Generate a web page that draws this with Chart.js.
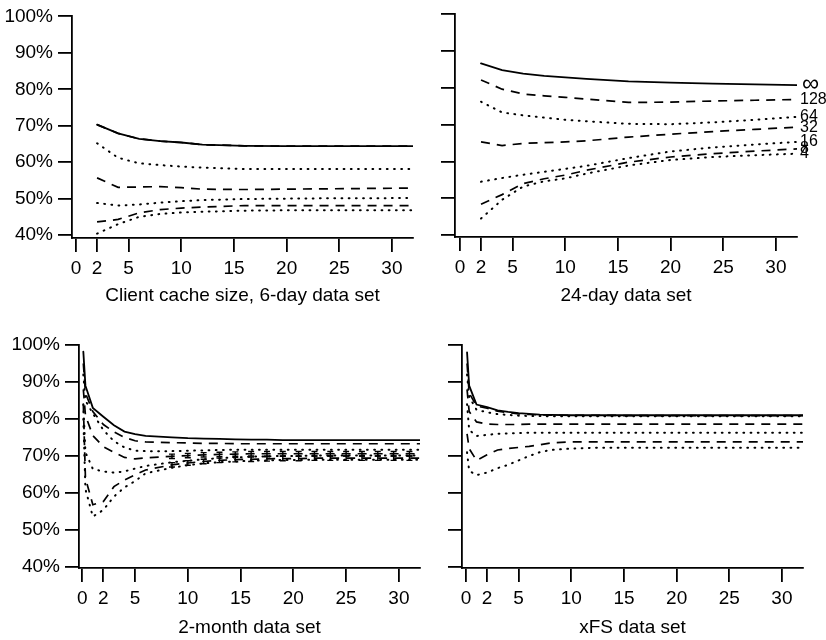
<!DOCTYPE html>
<html>
<head>
<meta charset="utf-8">
<script src="https://cdn.jsdelivr.net/npm/chart.js@4.4.1/dist/chart.umd.min.js"></script>
<style>
  body { margin: 0; background: #fff; width: 826px; height: 640px; position: relative; overflow: hidden; }
  canvas { position: absolute; }
</style>
</head>
<body>
<canvas id="day6" width="416" height="310" style="left:0;top:0"></canvas>
<canvas id="day24" width="385" height="310" style="left:441px;top:0"></canvas>
<canvas id="month2" width="422" height="320" style="left:0;top:320px"></canvas>
<canvas id="xfs" width="378" height="320" style="left:448px;top:320px"></canvas>
<script>
// cache sizes, one line each (bottom to top)
const sizeLabels = ['4', '8', '16', '32', '64', '128', '\u221e'];
const xTicks = [0, 2, 5, 10, 15, 20, 25, 30];
const yTicks = [40, 50, 60, 70, 80, 90, 100];

// 6-day and 24-day data sets
const xTop = [2, 4, 6, 8, 10, 12, 16, 20, 24, 28, 32];
const day6_4   = [40.4, 43.0, 45.0, 45.8, 46.2, 46.4, 46.7, 46.8, 46.8, 46.8, 46.8];
const day6_8   = [43.6, 44.3, 46.1, 47.0, 47.4, 47.7, 48.1, 48.1, 48.1, 48.1, 48.1];
const day6_16  = [48.8, 48.1, 48.4, 48.9, 49.3, 49.6, 49.9, 50.0, 50.1, 50.1, 50.2];
const day6_32  = [55.7, 53.1, 53.2, 53.3, 53.0, 52.6, 52.5, 52.6, 52.7, 52.8, 52.9];
const day6_64  = [65.2, 61.2, 59.7, 59.2, 58.8, 58.5, 58.1, 58.1, 58.1, 58.1, 58.1];
const day6_128 = [70.3, 67.9, 66.4, 65.8, 65.4, 64.8, 64.5, 64.4, 64.4, 64.4, 64.4];
const day6_inf = [70.3, 67.9, 66.4, 65.8, 65.4, 64.8, 64.5, 64.4, 64.4, 64.4, 64.4];

const day24_4   = [44.5, 49.6, 53.2, 54.6, 55.4, 56.7, 58.9, 60.4, 61.2, 61.7, 62.1];
const day24_8   = [48.4, 51.0, 54.0, 55.3, 56.3, 57.6, 59.8, 61.2, 62.1, 62.8, 63.4];
const day24_16  = [54.5, 55.5, 56.4, 57.2, 58.0, 58.8, 60.9, 62.7, 63.8, 64.6, 65.3];
const day24_32  = [65.3, 64.3, 64.9, 65.1, 65.3, 65.6, 66.6, 67.4, 68.1, 68.7, 69.3];
const day24_64  = [76.2, 73.3, 72.5, 71.9, 71.3, 70.9, 70.2, 70.1, 70.6, 71.3, 72.1];
const day24_128 = [82.1, 79.6, 78.3, 77.8, 77.4, 76.9, 76.0, 76.1, 76.4, 76.6, 76.8];
const day24_inf = [86.6, 84.8, 83.8, 83.2, 82.8, 82.4, 81.7, 81.4, 81.1, 80.9, 80.7];

// 2-month data set
const xMonth = [0.1, 0.3, 1, 2, 3, 4, 5, 6, 8.5, 10, 11.5, 13, 14.5, 16, 17.5, 19, 20.5, 22, 23.5, 25, 26.5, 28, 29.5, 31, 32];
const month_4   = [80, 61, 53.6, 55.4, 59.0, 61.5, 63.2, 65.3, 66.8, 67.5, 68.0, 68.3, 68.5, 68.7, 68.8, 68.9, 68.9, 69.0, 69.0, 69.0, 69.0, 69.0, 69.0, 69.0, 69.0];
const month_8   = [84, 64, 56.8, 57.7, 61.7, 63.5, 64.9, 66.2, 67.6, 68.1, 68.5, 68.8, 69.0, 69.1, 69.2, 69.3, 69.3, 69.4, 69.4, 69.4, 69.4, 69.4, 69.4, 69.4, 69.4];
const month_16  = [84, 71, 66.5, 65.8, 65.5, 65.8, 66.6, 67.3, 68.3, 68.7, 69.1, 69.4, 69.6, 69.8, 69.9, 70.0, 70.0, 70.1, 70.1, 70.1, 70.1, 70.1, 70.1, 70.1, 70.1];
const month_32  = [88, 81, 75.5, 72.5, 71.0, 69.6, 69.2, 69.5, 69.9, 70.1, 70.3, 70.4, 70.5, 70.6, 70.6, 70.6, 70.6, 70.6, 70.6, 70.6, 70.6, 70.6, 70.6, 70.6, 70.6];
const month_64  = [92, 85, 81.5, 77.0, 74.0, 72.3, 71.4, 71.3, 71.3, 71.4, 71.5, 71.6, 71.7, 71.7, 71.7, 71.7, 71.7, 71.7, 71.7, 71.7, 71.7, 71.7, 71.7, 71.7, 71.7];
const month_128 = [95, 87, 82.0, 78.5, 76.5, 75.0, 74.1, 73.8, 73.6, 73.5, 73.4, 73.4, 73.3, 73.3, 73.3, 73.3, 73.3, 73.3, 73.3, 73.3, 73.3, 73.3, 73.3, 73.3, 73.3];
const month_inf = [98.2, 89, 83.0, 80.6, 78.3, 76.6, 75.9, 75.4, 75.0, 74.8, 74.7, 74.6, 74.5, 74.4, 74.4, 74.3, 74.3, 74.3, 74.3, 74.3, 74.3, 74.3, 74.3, 74.3, 74.3];
// half-height of the error bars (percentage points)
const monthErr  = [0, 0, 0, 0, 0, 0, 0, 0, 0.6, 0.6, 0.6, 0.6, 0.6, 0.6, 0.6, 0.6, 0.6, 0.6, 0.6, 0.6, 0.6, 0.6, 0.6, 0.6, 0];

// xFS data set
const xXfs = [0.1, 0.3, 1, 2, 3, 4, 5, 6, 7, 8, 10, 12, 16, 20, 24, 28, 32];
const xfs_4   = [71, 66, 64.8, 65.5, 66.7, 67.6, 68.8, 70.0, 71.0, 71.6, 72.0, 72.2, 72.2, 72.2, 72.2, 72.2, 72.2];
const xfs_8   = [76, 72, 68.8, 70.3, 71.6, 72.0, 72.3, 72.6, 73.0, 73.5, 73.8, 73.8, 73.8, 73.8, 73.8, 73.8, 73.8];
const xfs_16  = [84, 77, 75.4, 75.7, 76.0, 76.1, 76.2, 76.3, 76.3, 76.3, 76.3, 76.3, 76.3, 76.3, 76.3, 76.3, 76.3];
const xfs_32  = [88, 82, 79.2, 78.6, 78.5, 78.5, 78.5, 78.6, 78.6, 78.6, 78.6, 78.6, 78.6, 78.6, 78.6, 78.6, 78.6];
const xfs_64  = [92, 86, 82.5, 81.8, 81.3, 81.1, 80.9, 80.8, 80.8, 80.7, 80.7, 80.7, 80.7, 80.7, 80.7, 80.7, 80.7];
const xfs_128 = [95, 87, 83.5, 82.9, 82.1, 81.7, 81.4, 81.2, 81.1, 81.0, 81.0, 81.0, 80.9, 80.9, 80.9, 80.9, 80.9];
const xfs_inf = [98, 89, 83.9, 83.2, 82.3, 81.9, 81.6, 81.4, 81.2, 81.1, 81.0, 81.0, 81.0, 81.0, 81.0, 81.0, 81.0];

const ink = '#000';
const fontFam = "'Liberation Sans', Arial, Helvetica, sans-serif";

// dotted / dashed / solid, alternating like the original
function dashFor(i) {
  if (i === sizeLabels.length - 1) return [];
  return i % 2 === 0 ? [0.8, 6.4] : [9, 7];
}

// cache size names at the right end of each line
const endLabels = {
  id: 'endLabels',
  afterDatasetsDraw(chart, args, opts) {
    if (!opts.show) return;
    const ctx = chart.ctx;
    ctx.save();
    ctx.fillStyle = ink;
    ctx.textBaseline = 'middle';
    chart.data.datasets.forEach((ds, i) => {
      const pts = chart.getDatasetMeta(i).data;
      const last = pts[pts.length - 1];
      const big = ds.label === '\u221e';
      ctx.font = (big ? '24px ' : '16px ') + fontFam;
      ctx.fillText(ds.label, last.x + (big ? 5 : 3), last.y - (big ? 1 : 0));
    });
    ctx.restore();
  }
};

// little I-shaped error bars
const errBars = {
  id: 'errBars',
  afterDatasetsDraw(chart) {
    const ctx = chart.ctx;
    const xs = chart.scales.x, ys = chart.scales.y;
    ctx.save();
    ctx.strokeStyle = ink;
    ctx.lineWidth = 1.4;
    chart.data.datasets.forEach(ds => {
      if (!ds.errs) return;
      ds.data.forEach((p, j) => {
        const e = ds.errs[j];
        if (!e) return;
        const px = xs.getPixelForValue(p.x);
        const y1 = ys.getPixelForValue(p.y + e);
        const y2 = ys.getPixelForValue(p.y - e);
        ctx.beginPath();
        ctx.moveTo(px, y1); ctx.lineTo(px, y2);
        ctx.moveTo(px - 3, y1); ctx.lineTo(px + 3, y1);
        ctx.moveTo(px - 3, y2); ctx.lineTo(px + 3, y2);
        ctx.stroke();
      });
    });
    ctx.restore();
  }
};

function makePanel(id, xs, series, cfg) {
  const datasets = series.map((vals, i) => ({
    label: sizeLabels[i],
    data: vals.map((v, j) => ({ x: xs[j], y: v })),
    borderColor: ink,
    borderWidth: i === series.length - 1 ? 1.8 : (i % 2 === 0 ? 2 : 1.7),
    borderDash: dashFor(i),
    borderCapStyle: i % 2 === 0 ? 'round' : 'butt',
    pointRadius: 0,
    tension: 0,
    fill: false,
    order: series.length - i,
    errs: cfg.errFor && cfg.errFor.includes(i) ? cfg.errs : null
  }));

  return new Chart(document.getElementById(id), {
    type: 'line',
    data: { datasets },
    plugins: [endLabels, errBars],
    options: {
      responsive: false,
      animation: false,
      layout: { padding: cfg.padding },
      plugins: {
        legend: { display: false },
        tooltip: { enabled: false },
        endLabels: { show: !!cfg.endLabels }
      },
      scales: {
        x: {
          type: 'linear',
          min: cfg.xMin,
          max: 32,
          afterBuildTicks: s => { s.ticks = xTicks.map(v => ({ value: v })); },
          afterFit: s => { s.height = cfg.xHeight; },
          ticks: {
            autoSkip: false, maxRotation: 0, padding: 5, color: ink,
            font: { family: fontFam, size: 19 },
            callback: v => String(v)
          },
          grid: { drawOnChartArea: false, tickLength: 14, color: ink, lineWidth: 1.8 },
          border: { display: true, color: ink, width: 1.8 },
          title: {
            display: true, text: cfg.title, color: ink,
            font: { family: fontFam, size: 19 },
            padding: { top: 0, bottom: cfg.titlePad }
          }
        },
        y: {
          type: 'linear',
          min: cfg.yMin,
          max: 100,
          afterBuildTicks: s => { s.ticks = yTicks.map(v => ({ value: v })); },
          afterFit: s => { s.width = cfg.yWidth; },
          ticks: {
            display: cfg.yLabels, padding: 5, color: ink,
            font: { family: fontFam, size: 19 },
            callback: v => v + '%'
          },
          grid: { drawOnChartArea: false, tickLength: 14, color: ink, lineWidth: 1.8 },
          border: { display: true, color: ink, width: 1.8 }
        }
      }
    }
  });
}

makePanel('day6', xTop, [day6_4, day6_8, day6_16, day6_32, day6_64, day6_128, day6_inf], {
  title: 'Client cache size, 6-day data set', yLabels: true, yWidth: 72,
  xMin: -0.38, yMin: 39.2, xHeight: 72, titlePad: 3,
  padding: { top: 15, right: 3, left: 0, bottom: 0 }
});

makePanel('day24', xTop, [day24_4, day24_8, day24_16, day24_32, day24_64, day24_128, day24_inf], {
  title: '24-day data set', yLabels: false, yWidth: 14, endLabels: true,
  xMin: -0.47, yMin: 39.5, xHeight: 73, titlePad: 3,
  padding: { top: 14, right: 29, left: 0, bottom: 0 }
});

makePanel('month2', xMonth, [month_4, month_8, month_16, month_32, month_64, month_128, month_inf], {
  title: '2-month data set', yLabels: true, yWidth: 79,
  xMin: -0.31, yMin: 39.7, xHeight: 72, titlePad: 1,
  padding: { top: 25, right: 2, left: 0, bottom: 0 },
  errs: monthErr, errFor: [1, 3]
});

makePanel('xfs', xXfs, [xfs_4, xfs_8, xfs_16, xfs_32, xfs_64, xfs_128, xfs_inf], {
  title: 'xFS data set', yLabels: false, yWidth: 14,
  xMin: -0.38, yMin: 39.7, xHeight: 72, titlePad: 1,
  padding: { top: 25, right: 23, left: 0, bottom: 0 }
});
</script>
</body>
</html>
